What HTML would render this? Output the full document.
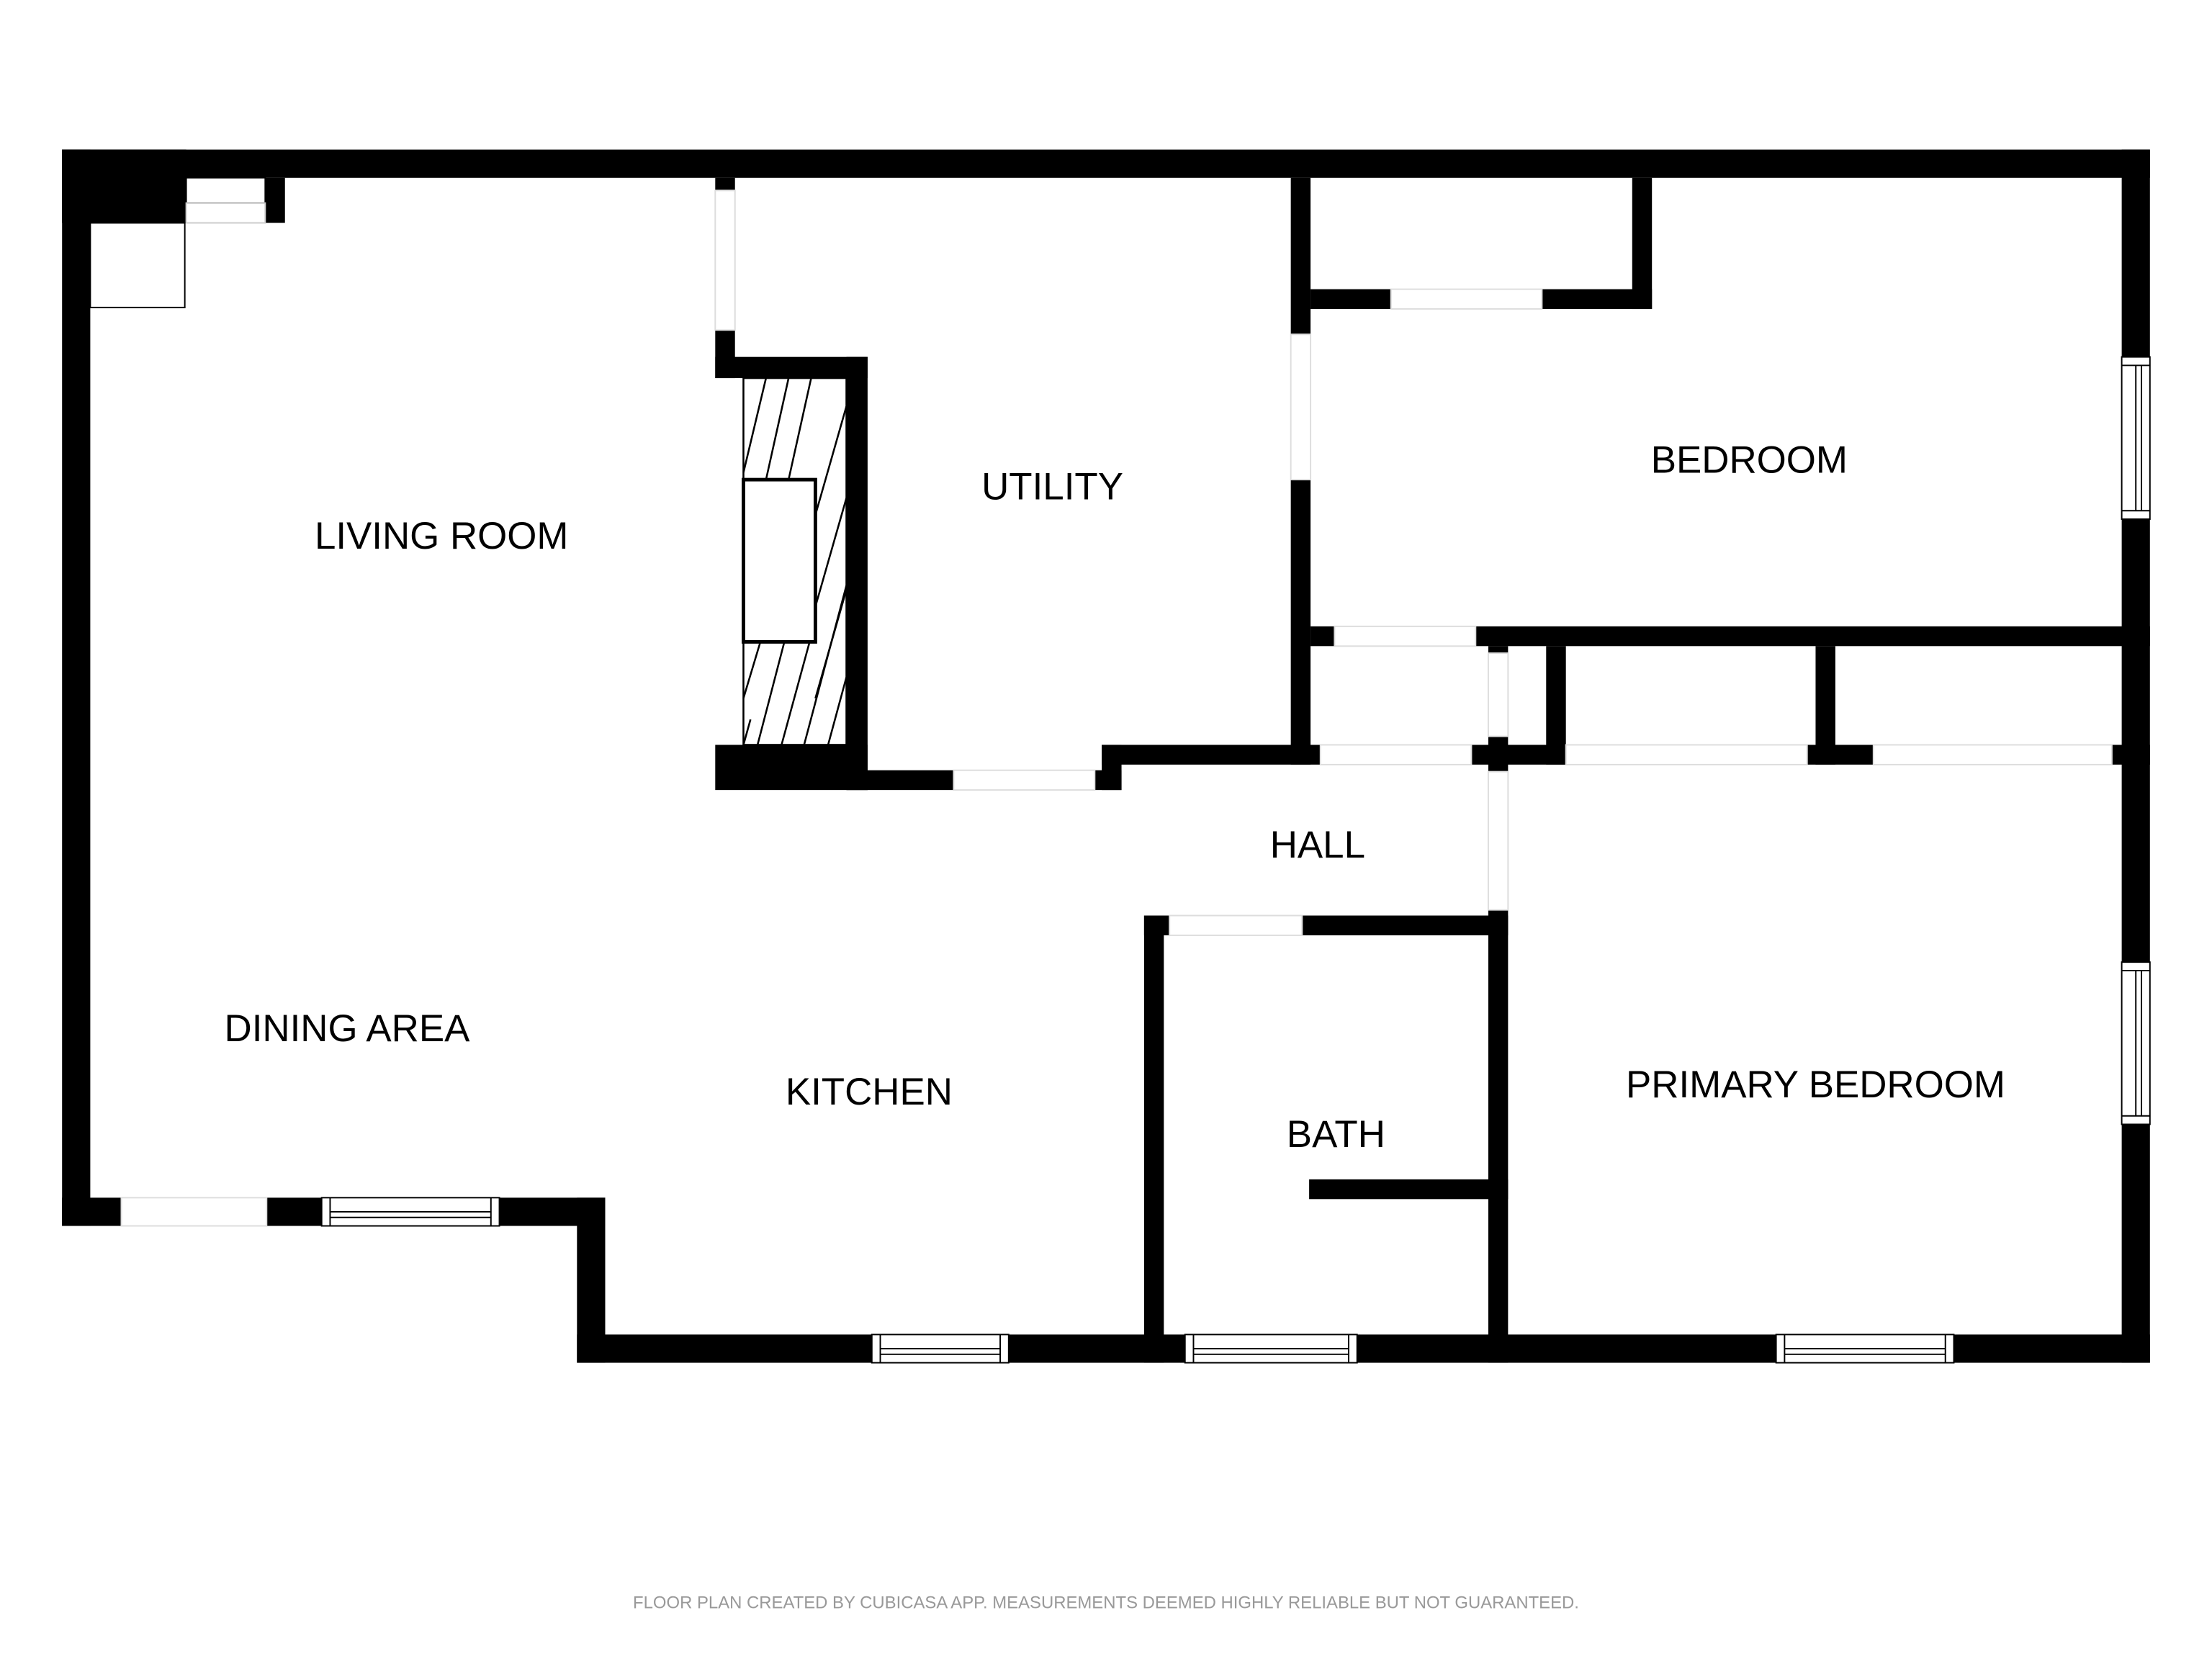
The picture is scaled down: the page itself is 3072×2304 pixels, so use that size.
<!DOCTYPE html>
<html><head><meta charset="utf-8"><style>html,body{margin:0;padding:0;background:#fff}svg{display:block}</style></head>
<body>
<svg width="3072" height="2304" viewBox="0 0 1568 1176" xmlns="http://www.w3.org/2000/svg">
<rect width="1568" height="1176" fill="#fff"/>
<g fill="#000">
<rect x="44" y="106" width="1480" height="20"/>
<rect x="44" y="106" width="20" height="763"/>
<rect x="44" y="106" width="88" height="52"/>
<rect x="188" y="126" width="14" height="32"/>
<rect x="44" y="849" width="42" height="20"/>
<rect x="189" y="849" width="39" height="20"/>
<rect x="354" y="849" width="75" height="20"/>
<rect x="409" y="849" width="20" height="117"/>
<rect x="409" y="946" width="209" height="20"/>
<rect x="715" y="946" width="125" height="20"/>
<rect x="962" y="946" width="297" height="20"/>
<rect x="1385" y="946" width="139" height="20"/>
<rect x="1504" y="106" width="20" height="147"/>
<rect x="1504" y="368" width="20" height="314"/>
<rect x="1504" y="797" width="20" height="169"/>
<rect x="507" y="126" width="14" height="9"/>
<rect x="507" y="234" width="14" height="34"/>
<rect x="507" y="253" width="108" height="15"/>
<rect x="600" y="253" width="15" height="307"/>
<rect x="507" y="528" width="108" height="32"/>
<rect x="600" y="546" width="76" height="14"/>
<rect x="776" y="546" width="19" height="14"/>
<rect x="781" y="528" width="14" height="32"/>
<rect x="781" y="528" width="155" height="14"/>
<rect x="915" y="126" width="14" height="111"/>
<rect x="915" y="340" width="14" height="202"/>
<rect x="1157" y="126" width="14" height="93"/>
<rect x="929" y="205" width="57" height="14"/>
<rect x="1093" y="205" width="78" height="14"/>
<rect x="1046" y="444" width="478" height="14"/>
<rect x="929" y="444" width="17" height="14"/>
<rect x="1055" y="458" width="14" height="5"/>
<rect x="1096" y="458" width="14" height="84"/>
<rect x="1287" y="458" width="14" height="84"/>
<rect x="1043" y="528" width="67" height="14"/>
<rect x="1281" y="528" width="47" height="14"/>
<rect x="1497" y="528" width="27" height="14"/>
<rect x="1055" y="522" width="14" height="25"/>
<rect x="1055" y="645" width="14" height="321"/>
<rect x="811" y="649" width="14" height="317"/>
<rect x="811" y="649" width="18" height="14"/>
<rect x="923" y="649" width="146" height="14"/>
<rect x="928" y="836" width="141" height="14"/>
</g>
<g fill="#fff" stroke="#000" stroke-width="1">
<rect x="132" y="126" width="56" height="18"/>
<rect x="132" y="144" width="56" height="14" stroke="#ccc"/>
<rect x="64" y="158" width="67" height="60"/>
<rect x="228" y="849" width="126" height="20"/>
<rect x="618" y="946" width="97" height="20"/>
<rect x="840" y="946" width="122" height="20"/>
<rect x="1259" y="946" width="126" height="20"/>
<rect x="1504" y="253" width="20" height="115"/>
<rect x="1504" y="682" width="20" height="115"/>
</g>
<g stroke="#000" stroke-width="1">
<line x1="234" y1="859" x2="348" y2="859"/><line x1="234" y1="863" x2="348" y2="863"/><line x1="234" y1="849" x2="234" y2="869"/><line x1="348" y1="849" x2="348" y2="869"/>
<line x1="624" y1="956" x2="709" y2="956"/><line x1="624" y1="960" x2="709" y2="960"/><line x1="624" y1="946" x2="624" y2="966"/><line x1="709" y1="946" x2="709" y2="966"/>
<line x1="846" y1="956" x2="956" y2="956"/><line x1="846" y1="960" x2="956" y2="960"/><line x1="846" y1="946" x2="846" y2="966"/><line x1="956" y1="946" x2="956" y2="966"/>
<line x1="1265" y1="956" x2="1379" y2="956"/><line x1="1265" y1="960" x2="1379" y2="960"/><line x1="1265" y1="946" x2="1265" y2="966"/><line x1="1379" y1="946" x2="1379" y2="966"/>
<line x1="1514" y1="259" x2="1514" y2="362"/><line x1="1518" y1="259" x2="1518" y2="362"/><line x1="1504" y1="259" x2="1524" y2="259"/><line x1="1504" y1="362" x2="1524" y2="362"/>
<line x1="1514" y1="688" x2="1514" y2="791"/><line x1="1518" y1="688" x2="1518" y2="791"/><line x1="1504" y1="688" x2="1524" y2="688"/><line x1="1504" y1="791" x2="1524" y2="791"/>
</g>
<g stroke="#ddd" stroke-width="1" fill="#fff">
<rect x="86" y="849" width="103" height="20"/>
<rect x="676" y="546" width="100" height="14"/>
<rect x="986" y="205" width="107" height="14"/>
<rect x="936" y="528" width="107" height="14"/>
<rect x="1110" y="528" width="171" height="14"/>
<rect x="1328" y="528" width="169" height="14"/>
<rect x="1055" y="463" width="14" height="59"/>
<rect x="1055" y="547" width="14" height="98"/>
<rect x="829" y="649" width="94" height="14"/>
<rect x="507" y="135" width="14" height="99"/>
<rect x="915" y="237" width="14" height="103"/>
<rect x="946" y="444" width="100" height="14"/>
</g>
<g stroke="#000" stroke-width="1.3" fill="none">
<rect x="527" y="268" width="73" height="260"/>
<line x1="527" y1="335" x2="543" y2="268"/><line x1="543" y1="340" x2="559" y2="268"/><line x1="559" y1="340" x2="575" y2="268"/>
<line x1="578" y1="365" x2="600" y2="288"/><line x1="578" y1="430" x2="600" y2="353"/><line x1="578" y1="495" x2="600" y2="418"/>
<line x1="527" y1="495" x2="539" y2="455"/><line x1="527" y1="528" x2="532" y2="510"/><line x1="537" y1="528" x2="556" y2="455"/><line x1="554" y1="528" x2="578" y2="440"/><line x1="570" y1="528" x2="600" y2="415"/><line x1="587" y1="528" x2="600" y2="480"/>
</g>
<rect x="527" y="340" width="51" height="115" fill="#fff" stroke="#000" stroke-width="2.5"/>
<g font-family="'Liberation Sans', sans-serif" font-size="27" fill="#000" text-anchor="middle">
<text x="313" y="389">LIVING ROOM</text>
<text x="746" y="354">UTILITY</text>
<text x="1240" y="335">BEDROOM</text>
<text x="934" y="608">HALL</text>
<text x="246" y="738">DINING AREA</text>
<text x="616" y="783">KITCHEN</text>
<text x="947" y="813">BATH</text>
<text x="1287" y="778">PRIMARY BEDROOM</text>
</g>
<text x="784" y="1140" font-family="'Liberation Sans', sans-serif" font-size="12.2" fill="#999" text-anchor="middle">FLOOR PLAN CREATED BY CUBICASA APP. MEASUREMENTS DEEMED HIGHLY RELIABLE BUT NOT GUARANTEED.</text>
</svg>
</body></html>
